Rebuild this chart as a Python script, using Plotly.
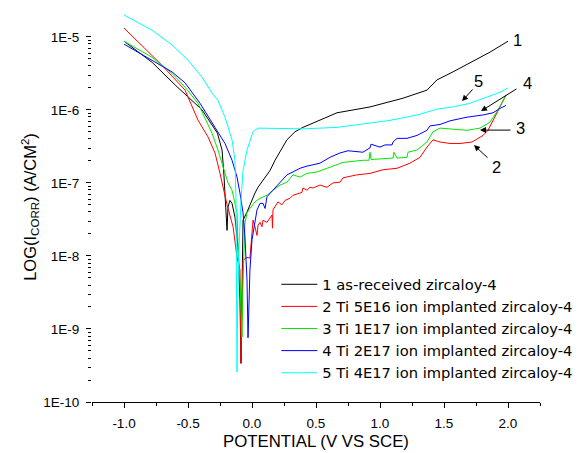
import plotly.graph_objects as go

# ---- data: potential (V vs SCE) and log10 of current density (A/cm^2) ----
names = ["1 as-received zircaloy-4",
         "2 Ti 5E16 ion implanted zircaloy-4",
         "3 Ti 1E17 ion implanted zircaloy-4",
         "4 Ti 2E17 ion implanted zircaloy-4",
         "5 Ti 4E17 ion implanted zircaloy-4"]
colors = ["#000000", "#FF0000", "#00E800", "#0000FF", "#00FFFF"]

s1_x = [-1.0, -0.78, -0.60, -0.39, -0.27, -0.234, -0.219, -0.203, -0.195, -0.1875, -0.172, -0.156,
        -0.133, -0.109, -0.094, -0.086, -0.07, -0.039, -0.016, 0.0, 0.023, 0.047, 0.086, 0.141,
        0.18, 0.219, 0.273, 0.336, 0.398, 0.531, 0.664, 0.922, 1.18, 1.367, 1.445, 1.57, 1.703,
        1.859, 2.0]
s1_log = [-5.06, -5.35, -5.66, -6.00, -6.32, -6.55, -6.90, -7.37, -7.65, -7.33, -7.24, -7.28,
          -7.47, -7.88, -8.60, -9.47, -7.51, -7.40, -7.30, -7.24, -7.14, -7.06, -6.96, -6.83,
          -6.69, -6.58, -6.41, -6.30, -6.24, -6.14, -6.04, -5.96, -5.84, -5.73, -5.59, -5.48, -5.36,
          -5.21, -5.06]

s2_x = [-1.0, -0.703, -0.523, -0.422, -0.344, -0.289, -0.25, -0.227, -0.195, -0.148, -0.117, -0.094,
        -0.086, -0.07, -0.039, -0.016, 0.008, 0.023, 0.039, 0.047, 0.0625, 0.078, 0.086, 0.117,
        0.156, 0.16, 0.164, 0.203, 0.234, 0.258, 0.297, 0.32, 0.39, 0.398, 0.43, 0.453, 0.477,
        0.531, 0.586, 0.633, 0.6875, 0.711, 0.82, 0.922, 1.023, 1.133, 1.234, 1.3125, 1.367,
        1.414, 1.469, 1.547, 1.625, 1.719, 1.805, 1.844, 1.914, 1.984]
s2_log = [-4.88, -5.39, -5.73, -6.14, -6.37, -6.59, -6.87, -7.07, -7.30, -7.60, -8.02, -8.19,
          -9.47, -8.06, -8.02, -8.03, -7.51, -7.60, -7.72, -7.58, -7.54, -7.60, -7.51, -7.54,
          -7.44, -7.62, -7.37, -7.26, -7.30, -7.24, -7.21, -7.17, -7.13, -7.07, -7.10, -7.06, -7.07,
          -7.03, -7.06, -7.00, -6.99, -6.93, -6.89, -6.87, -6.82, -6.80, -6.73, -6.65, -6.51,
          -6.41, -6.44, -6.46, -6.46, -6.44, -6.35, -6.28, -6.04, -5.80]

s3_x = [-1.0, -0.781, -0.625, -0.523, -0.422, -0.3125, -0.266, -0.227, -0.1875, -0.156, -0.117,
        -0.109, -0.094, -0.078, -0.07, -0.055, -0.039, -0.016, 0.023, 0.0625, 0.117, 0.164, 0.219,
        0.273, 0.32, 0.375, 0.43, 0.508, 0.586, 0.633, 0.711, 0.867, 0.914, 0.922, 0.93, 1.102,
        1.109, 1.133, 1.211, 1.219, 1.289, 1.367, 1.414, 1.469, 1.547, 1.68, 1.781, 1.859, 1.922,
        1.984]
s3_log = [-5.06, -5.28, -5.50, -5.69, -5.91, -6.32, -6.55, -6.78, -7.00, -7.10, -7.41,
          -7.88, -8.33, -9.11, -8.33, -7.55, -7.41, -7.35, -7.26, -7.21, -7.17, -7.10, -7.03,
          -6.99, -6.89, -6.92, -6.87, -6.85, -6.80, -6.76, -6.72, -6.69, -6.69, -6.58, -6.68, -6.66,
          -6.58, -6.66, -6.65, -6.58, -6.55, -6.44, -6.30, -6.25, -6.26, -6.28, -6.25, -6.17, -6.00,
          -5.80]

s4_x = [-1.0, -0.781, -0.625, -0.523, -0.406, -0.289, -0.211, -0.156, -0.117, -0.094, -0.07,
        -0.055, -0.039, -0.031, -0.016, 0.0, 0.023, 0.039, 0.0625, 0.086, 0.102, 0.117, 0.164,
        0.219, 0.273, 0.32, 0.375, 0.43, 0.531, 0.609, 0.6875, 0.75, 0.867, 0.922, 0.93, 1.0,
        1.039, 1.094, 1.102, 1.133, 1.211, 1.289, 1.367, 1.39, 1.469, 1.547, 1.68, 1.805, 1.883,
        1.9375, 1.984]
s4_log = [-5.10, -5.32, -5.48, -5.63, -5.91, -6.24, -6.46, -6.69, -6.92, -7.14, -7.41,
          -7.74, -8.33, -9.12, -8.19, -7.78, -7.51, -7.37, -7.28, -7.28, -7.35, -7.19, -7.10,
          -7.00, -6.89, -6.85, -6.80, -6.77, -6.73, -6.65, -6.59, -6.56, -6.58, -6.52, -6.47, -6.51,
          -6.48, -6.48, -6.44, -6.39, -6.39, -6.35, -6.28, -6.22, -6.20, -6.15, -6.10, -6.07, -6.04,
          -5.98, -5.94]

s5_x = [-1.0, -0.781, -0.625, -0.5, -0.391, -0.3125, -0.266, -0.211, -0.156, -0.133, -0.125,
        -0.12, -0.117, -0.112, -0.109, -0.102, -0.086, -0.07, -0.039, -0.016, 0.008, 0.047, 0.258,
        0.398, 0.664, 0.922, 1.055, 1.18, 1.3125, 1.445, 1.57, 1.703, 1.836, 1.9375, 2.0]
s5_log = [-4.70, -4.91, -5.11, -5.32, -5.55, -5.77, -5.87, -6.10, -6.41, -6.69, -7.24,
          -8.10, -9.59, -8.60, -8.20, -7.92, -7.24, -6.83, -6.55, -6.41, -6.30, -6.25, -6.25,
          -6.26, -6.24, -6.18, -6.15, -6.11, -6.06, -5.99, -5.96, -5.91, -5.83, -5.76, -5.70]

series_x = [s1_x, s2_x, s3_x, s4_x, s5_x]
series_log = [s1_log, s2_log, s3_log, s4_log, s5_log]

major_ticks = [1e-10, 1e-9, 1e-8, 1e-7, 1e-6, 1e-5]
major_text = ["1E-10", "1E-9", "1E-8", "1E-7", "1E-6", "1E-5"]
x_ticks = [-1.0, -0.5, 0.0, 0.5, 1.0, 1.5, 2.0]
x_minor = [-1.25, -0.75, -0.25, 0.25, 0.75, 1.25, 1.75, 2.25]

FONT = "Liberation Sans, Arial, sans-serif"
LEGEND_FONT = "DejaVu Sans, Liberation Sans, sans-serif"

fig = go.Figure()
for nm, c, xs, ls in zip(names, colors, series_x, series_log):
    fig.add_trace(go.Scatter(x=xs, y=[10 ** v for v in ls], mode="lines", name=nm,
                             line=dict(color=c, width=1)))

minor_vals = [m * d for d in major_ticks[:-1] for m in range(2, 10)]

# the page body has an 8px margin, so the figure is 8px smaller and margins shifted
fig.update_layout(
    width=574, height=445,
    margin=dict(l=84, r=42, t=4, b=51),
    paper_bgcolor="white", plot_bgcolor="white",
    font=dict(family=FONT, size=13.5, color="black"),
    showlegend=True,
    legend=dict(x=0.4115, y=0.343, xanchor="left", yanchor="top",
                font=dict(size=14.7, family=LEGEND_FONT), bgcolor="rgba(0,0,0,0)",
                itemwidth=36, tracegroupgap=0),
    xaxis=dict(range=[-1.25, 2.25], showgrid=False, zeroline=False,
               showline=True, linecolor="black", linewidth=1,
               tickmode="array", tickvals=x_ticks, ticktext=[f"{v:.1f}" for v in x_ticks],
               ticks="outside", ticklen=5, tickcolor="black", ticklabelstandoff=4,
               minor=dict(tickmode="array", tickvals=x_minor,
                          ticks="outside", ticklen=3, tickcolor="black"),
               title=dict(text="POTENTIAL (V VS SCE)", font=dict(size=16.8), standoff=5)),
    yaxis=dict(type="log", range=[-10, -4.66], showgrid=False, zeroline=False,
               showline=False,
               tickmode="array", tickvals=major_ticks, ticktext=major_text,
               ticks="outside", ticklen=5, tickcolor="black", ticklabelstandoff=4,
               minor=dict(tickmode="array", tickvals=minor_vals, ticks="outside", ticklen=3,
                          tickcolor="black"),
               title=dict(text="LOG(I<sub>CORR</sub>) (A/CM<sup>2</sup>)", font=dict(size=16.5),
                          standoff=2)),
)

# left axis line only up to 1E-5
fig.add_shape(type="line", xref="paper", yref="y", x0=0, x1=0, y0=-10, y1=-5,
              line=dict(color="black", width=1))

# curve labels
labels = [("1", 2.078, -5.045), ("5", 1.773, -5.61), ("4", 2.156, -5.634),
          ("3", 2.094, -6.25), ("2", 1.914, -6.78)]
for t, lx, ly in labels:
    fig.add_annotation(x=lx, y=ly, text=t, showarrow=False, font=dict(size=16.5, family=FONT))

# arrows: (head x, head y, tail x, tail y)
arrows = [(1.641, -5.88, 1.734, -5.70), (1.789, -6.017, 2.078, -5.70),
          (1.781, -6.277, 2.031, -6.277), (1.734, -6.482, 1.852, -6.674)]
for hx, hy, tx, ty in arrows:
    fig.add_annotation(x=hx, y=hy, ax=tx, ay=ty, axref="x", ayref="y", text="",
                       showarrow=True, arrowhead=2, arrowsize=1.2, arrowwidth=1,
                       arrowcolor="black")

fig.write_html("out.html")
